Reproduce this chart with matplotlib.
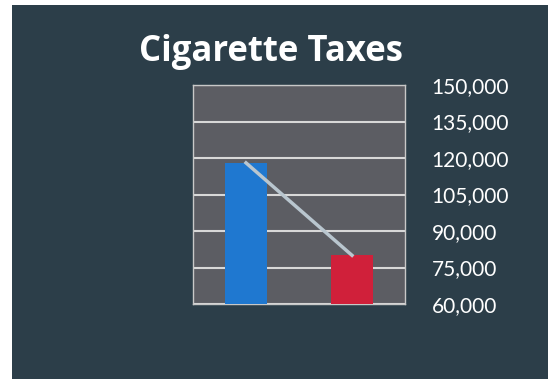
import matplotlib
matplotlib.use('Agg')
import matplotlib.pyplot as plt
from matplotlib.patches import Rectangle
from matplotlib.ticker import FuncFormatter

# 数据
categories = ['Before', 'After']
tax_values = [118000, 80000]
bar_colors = ['#1f78d0', '#d0203a']
y_ticks = [60000, 75000, 90000, 105000, 120000, 135000, 150000]

fig = plt.figure(figsize=(5.53, 3.79), dpi=100, facecolor='white')
# 深色背景 (幻灯片)
fig.patches.append(Rectangle((12 / 553, 0), 536 / 553, 374 / 379,
                             transform=fig.transFigure, facecolor='#2c3e49',
                             edgecolor='none', zorder=-10))

ax = fig.add_axes([193 / 553, 75 / 379, 212 / 553, 219 / 379])
ax.set_facecolor('#5c5d63')

x = list(range(len(categories)))
ax.bar(x, [v - y_ticks[0] for v in tax_values], bottom=y_ticks[0], width=0.39,
       color=bar_colors, zorder=3)
ax.plot(x, tax_values, color='#b9c6cf', lw=2.5, zorder=4)

ax.set_xlim(-0.5, 1.5)
ax.set_ylim(y_ticks[0], y_ticks[-1])
ax.set_yticks(y_ticks)
ax.yaxis.set_major_formatter(FuncFormatter(lambda v, p: f'{int(v):,}'))
ax.yaxis.tick_right()
ax.tick_params(axis='y', length=0, pad=19, labelsize=15, labelcolor='white')
for lbl in ax.get_yticklabels():
    lbl.set_fontfamily('Lato')
ax.set_xticks([])
ax.grid(axis='y', color='#d8d8d8', lw=1.5, zorder=1)
for s in ax.spines.values():
    s.set_color('#c8c8c8')
    s.set_linewidth(1)

fig.text(271 / 553, 1 - 52 / 379, 'Cigarette Taxes', color='white',
         fontsize=25, fontweight='bold', fontfamily='Open Sans',
         ha='center', va='center')

fig.savefig('out.png', dpi=100, facecolor=fig.get_facecolor())
